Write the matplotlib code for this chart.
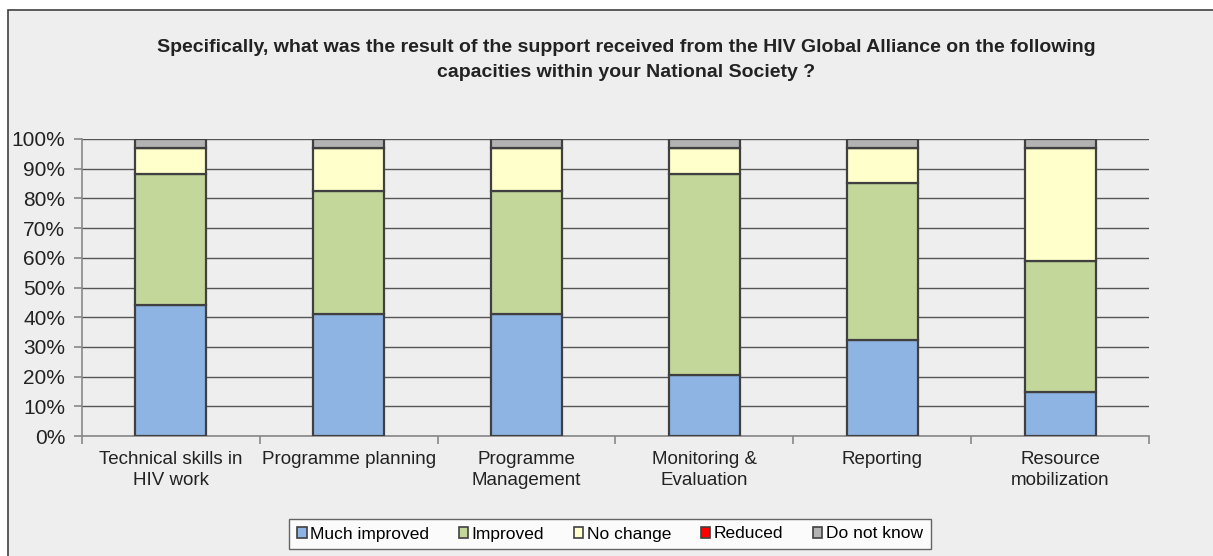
import numpy as np
import matplotlib.pyplot as plt
from matplotlib.patches import Rectangle, Patch
from matplotlib.ticker import PercentFormatter

plt.rcParams['font.family'] = ['Liberation Sans', 'DejaVu Sans']

categories = ['Technical skills in\nHIV work', 'Programme planning', 'Programme\nManagement',
              'Monitoring &\nEvaluation', 'Reporting', 'Resource\nmobilization']
series = ['Much improved', 'Improved', 'No change', 'Reduced', 'Do not know']
# answer counts per category (34 respondents)
much_improved = [15, 14, 14, 7, 11, 5]
improved = [15, 14, 14, 23, 18, 15]
no_change = [3, 5, 5, 3, 4, 13]
reduced = [0, 0, 0, 0, 0, 0]
do_not_know = [1, 1, 1, 1, 1, 1]
colors = ['#8EB4E3', '#C4D79B', '#FFFFCC', '#FF0000', '#B3B3B3']


def main():
    W, H = 1213, 556
    fig = plt.figure(figsize=(W / 100, H / 100), dpi=100)
    fig.patch.set_facecolor('white')
    fig.patches.append(Rectangle((8 / W, -0.05), 1.1, 1 - 10 / H + 0.05, transform=fig.transFigure,
                                 facecolor='#EEEEEE', edgecolor='#404040', linewidth=1.2, zorder=-10))

    ax = fig.add_axes([82 / W, 1 - 436 / H, (1149 - 82) / W, (436 - 139) / H])
    ax.set_facecolor('none')

    data = np.array([much_improved, improved, no_change, reduced, do_not_know], dtype=float)
    pct = data / data.sum(axis=0) * 100
    x = np.arange(len(categories))
    bottom = np.zeros(len(categories))
    for vals, col in zip(pct, colors):
        ax.bar(x, vals, 0.4, bottom=bottom, color=col, edgecolor='#404040', linewidth=1.6, zorder=3)
        bottom += vals

    ax.set_xlim(-0.5, len(categories) - 0.5)
    ax.set_ylim(0, 100)
    ax.set_yticks(np.arange(0, 101, 10))
    ax.yaxis.set_major_formatter(PercentFormatter(decimals=0))
    ax.grid(axis='y', color='#555555', linewidth=1.0, zorder=1)
    ax.set_xticks(np.arange(-0.5, len(categories), 1))
    ax.set_xticklabels([])
    ax.set_xticks(x, minor=True)
    ax.set_xticklabels(categories, minor=True, fontsize=13.5, color='#222222', linespacing=1.3)
    ax.tick_params(axis='x', which='minor', length=0, pad=11)
    ax.tick_params(axis='x', which='major', length=6, color='#888888', width=1.2)
    ax.tick_params(axis='y', length=6, color='#888888', width=1.2, labelsize=15, labelcolor='#222222', pad=6)
    for s in ['top', 'right']:
        ax.spines[s].set_visible(False)
    for s in ['left', 'bottom']:
        ax.spines[s].set_color('#888888')
        ax.spines[s].set_linewidth(1.2)

    fig.text(626 / W, 1 - 60 / H,
             'Specifically, what was the result of the support received from the HIV Global Alliance on the following\n'
             'capacities within your National Society ?',
             ha='center', va='center', fontsize=14, fontweight='bold', color='#222222', linespacing=1.55)

    handles = [Patch(facecolor=c, edgecolor='#404040', linewidth=1.2) for c in colors]
    leg = fig.legend(handles, series, loc='center', bbox_to_anchor=(610 / W, 1 - 534 / H), ncol=5,
                     fontsize=12.5, frameon=True, fancybox=False, handlelength=0.55, handleheight=0.55,
                     handletextpad=0.2, columnspacing=1.7, borderpad=0.45, borderaxespad=0)
    leg.get_frame().set_edgecolor('#404040')
    leg.get_frame().set_linewidth(1.0)
    leg.get_frame().set_facecolor('white')

    fig.savefig('out.png', dpi=100)
    plt.close(fig)


if __name__ == "__main__":
    main()
